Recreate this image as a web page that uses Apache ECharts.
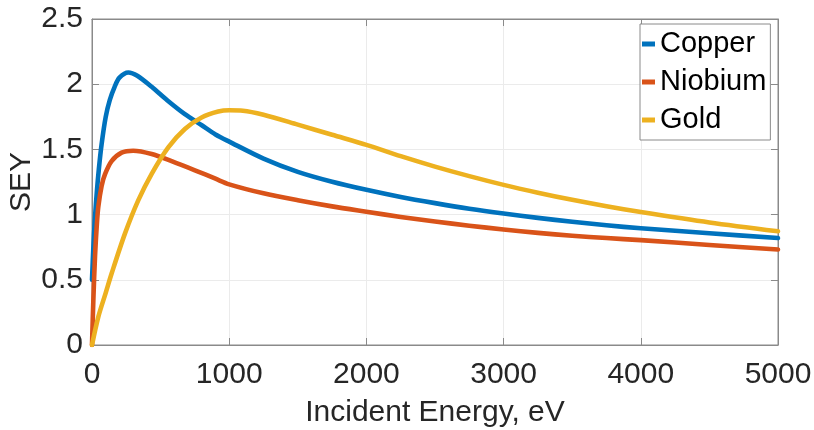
<!DOCTYPE html>
<html><head><meta charset="utf-8">
<script src="https://cdn.jsdelivr.net/npm/echarts@6/dist/echarts.min.js"></script>
<style>html,body{margin:0;padding:0;background:#fff}#c{width:814px;height:430px}</style>
</head><body><div id="c"></div>
<script>
// Data
var copperE   = [0, 10, 20, 35, 50, 70, 100, 130, 165, 200, 265, 330, 435, 550, 677, 800, 900, 1000, 1250, 1500, 1750, 2000, 2250, 2500, 2750, 3000, 3250, 3500, 3750, 4000, 4500, 5000];
var copperSEY = [0.5, 0.75, 0.95, 1.17, 1.35, 1.54, 1.75, 1.88, 1.98, 2.05, 2.09, 2.065, 1.98, 1.875, 1.77, 1.685, 1.615, 1.56, 1.43, 1.328, 1.252, 1.19, 1.135, 1.088, 1.045, 1.008, 0.975, 0.945, 0.918, 0.895, 0.857, 0.82];
var niobiumE   = [0, 10, 22, 35, 46, 70, 95, 143, 216, 300, 435, 580, 750, 900, 1000, 1250, 1500, 1750, 2000, 2250, 2500, 2750, 3000, 3250, 3500, 3750, 4000, 4500, 5000];
var niobiumSEY = [0, 0.35, 0.68, 0.92, 1.06, 1.22, 1.31, 1.41, 1.475, 1.49, 1.465, 1.41, 1.34, 1.275, 1.232, 1.163, 1.11, 1.063, 1.022, 0.982, 0.947, 0.915, 0.886, 0.86, 0.838, 0.82, 0.804, 0.767, 0.732];
var goldE   = [0, 46, 100, 143, 240, 337, 435, 556, 677, 799, 920, 1000, 1100, 1250, 1500, 1750, 2000, 2250, 2500, 2750, 3000, 3250, 3500, 3750, 4000, 4500, 5000];
var goldSEY = [0, 0.216, 0.4, 0.548, 0.854, 1.109, 1.313, 1.516, 1.657, 1.745, 1.79, 1.8, 1.797, 1.766, 1.69, 1.612, 1.535, 1.448, 1.368, 1.295, 1.228, 1.168, 1.113, 1.064, 1.02, 0.94, 0.872];
var seriesNames = ['Copper', 'Niobium', 'Gold'];
var colors = ['#0072BD', '#D95319', '#EDB120'];
var xTicks = {min: 0, max: 5000, step: 1000};
var yTicks = {min: 0, max: 2.5, step: 0.5};

function pairs(xs, ys) { return xs.map(function (x, i) { return [x, ys[i]]; }); }
var allData = [pairs(copperE, copperSEY), pairs(niobiumE, niobiumSEY), pairs(goldE, goldSEY)];

var FONT = 'Liberation Sans';
var axisCol = '#8a8a8a';
var txtCol = '#262626';
var chart = echarts.init(document.getElementById('c'), null, {renderer: 'canvas'});
var baseX = {
  type: 'value', min: xTicks.min, max: xTicks.max, interval: xTicks.step,
  axisLine: {show: true, onZero: false, lineStyle: {color: axisCol, width: 1}},
  axisTick: {show: true, inside: true, length: 7, lineStyle: {color: axisCol}},
  splitLine: {show: false}
};
var baseY = {
  type: 'value', min: yTicks.min, max: yTicks.max, interval: yTicks.step,
  axisLine: {show: true, onZero: false, lineStyle: {color: axisCol, width: 1}},
  axisTick: {show: true, inside: true, length: 7, lineStyle: {color: axisCol}},
  splitLine: {show: false}
};
chart.setOption({
  animation: false,
  backgroundColor: '#fff',
  grid: {left: 92, top: 19, right: 36, bottom: 85, containLabel: false, outerBoundsMode: 'none',
         show: true, borderColor: axisCol, borderWidth: 1, backgroundColor: '#fff'},
  legend: {
    show: true, orient: 'vertical', left: 640, top: 24,
    data: seriesNames,
    icon: 'rect', itemWidth: 13, itemHeight: 5, itemGap: 4,
    padding: [3, 4, 3, 2],
    backgroundColor: '#fff', borderColor: axisCol, borderWidth: 1,
    textStyle: {fontFamily: FONT, fontSize: 29, color: '#000', lineHeight: 34}
  },
  xAxis: [
    Object.assign({}, baseX, {
      position: 'bottom',
      name: 'Incident Energy, eV', nameLocation: 'middle', nameGap: 53, nameMoveOverlap: false,
      nameTextStyle: {fontFamily: FONT, fontSize: 30, color: txtCol, lineHeight: 30},
      axisLabel: {fontFamily: FONT, fontSize: 30, color: txtCol, margin: 15, lineHeight: 30,
                  formatter: function (v) { return String(v); }},
      splitLine: {show: true, lineStyle: {color: '#ebebeb', width: 1}}
    }),
    Object.assign({}, baseX, {position: 'top', axisLabel: {show: false}})
  ],
  yAxis: [
    Object.assign({}, baseY, {
      position: 'left',
      name: 'SEY', nameLocation: 'middle', nameGap: 55, nameRotate: 90, nameMoveOverlap: false,
      nameTextStyle: {fontFamily: FONT, fontSize: 30, color: txtCol, lineHeight: 30},
      axisLabel: {fontFamily: FONT, fontSize: 30, color: txtCol, margin: 9,
                  formatter: function (v) { return String(v); }},
      splitLine: {show: true, lineStyle: {color: '#ebebeb', width: 1}}
    }),
    Object.assign({}, baseY, {position: 'right', axisLabel: {show: false}})
  ],
  series: seriesNames.map(function (n, i) {
    return {
      name: n, type: 'line', data: allData[i], xAxisIndex: 0, yAxisIndex: 0,
      showSymbol: false, symbol: 'none', smooth: 0.3,
      itemStyle: {color: colors[i]},
      lineStyle: {color: colors[i], width: 4.6, cap: 'round', join: 'round'},
      z: 3 + i
    };
  })
});
</script></body></html>
